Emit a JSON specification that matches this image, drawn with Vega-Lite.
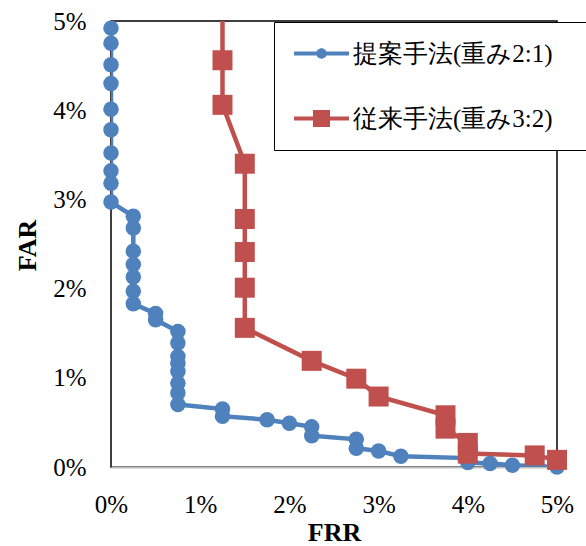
{
  "$schema": "https://vega.github.io/schema/vega-lite/v6.json",
  "width": 446,
  "height": 446,
  "autosize": {"type": "none"},
  "padding": {"left": 111, "top": 21, "right": 29, "bottom": 79},
  "background": "white",
  "config": {
    "view": {"stroke": "black", "strokeWidth": 1.5},
    "font": "Liberation Serif"
  },
  "data": {
    "values": [
      {"s": "提案手法(重み2:1)", "i": 0, "frr": 0, "far": 4.92},
      {"s": "提案手法(重み2:1)", "i": 1, "frr": 0, "far": 4.75},
      {"s": "提案手法(重み2:1)", "i": 2, "frr": 0, "far": 4.51},
      {"s": "提案手法(重み2:1)", "i": 3, "frr": 0, "far": 4.30},
      {"s": "提案手法(重み2:1)", "i": 4, "frr": 0, "far": 4.01},
      {"s": "提案手法(重み2:1)", "i": 5, "frr": 0, "far": 3.78},
      {"s": "提案手法(重み2:1)", "i": 6, "frr": 0, "far": 3.52},
      {"s": "提案手法(重み2:1)", "i": 7, "frr": 0, "far": 3.32},
      {"s": "提案手法(重み2:1)", "i": 8, "frr": 0, "far": 3.18},
      {"s": "提案手法(重み2:1)", "i": 9, "frr": 0, "far": 2.97},
      {"s": "提案手法(重み2:1)", "i": 10, "frr": 0.25, "far": 2.81},
      {"s": "提案手法(重み2:1)", "i": 11, "frr": 0.25, "far": 2.68},
      {"s": "提案手法(重み2:1)", "i": 12, "frr": 0.25, "far": 2.42},
      {"s": "提案手法(重み2:1)", "i": 13, "frr": 0.25, "far": 2.27},
      {"s": "提案手法(重み2:1)", "i": 14, "frr": 0.25, "far": 2.13},
      {"s": "提案手法(重み2:1)", "i": 15, "frr": 0.25, "far": 1.97},
      {"s": "提案手法(重み2:1)", "i": 16, "frr": 0.25, "far": 1.83},
      {"s": "提案手法(重み2:1)", "i": 17, "frr": 0.5, "far": 1.72},
      {"s": "提案手法(重み2:1)", "i": 18, "frr": 0.5, "far": 1.65},
      {"s": "提案手法(重み2:1)", "i": 19, "frr": 0.75, "far": 1.52},
      {"s": "提案手法(重み2:1)", "i": 20, "frr": 0.75, "far": 1.39},
      {"s": "提案手法(重み2:1)", "i": 21, "frr": 0.75, "far": 1.24},
      {"s": "提案手法(重み2:1)", "i": 22, "frr": 0.75, "far": 1.16},
      {"s": "提案手法(重み2:1)", "i": 23, "frr": 0.75, "far": 1.07},
      {"s": "提案手法(重み2:1)", "i": 24, "frr": 0.75, "far": 0.94},
      {"s": "提案手法(重み2:1)", "i": 25, "frr": 0.75, "far": 0.83},
      {"s": "提案手法(重み2:1)", "i": 26, "frr": 0.75, "far": 0.70},
      {"s": "提案手法(重み2:1)", "i": 27, "frr": 1.25, "far": 0.65},
      {"s": "提案手法(重み2:1)", "i": 28, "frr": 1.25, "far": 0.57},
      {"s": "提案手法(重み2:1)", "i": 29, "frr": 1.75, "far": 0.53},
      {"s": "提案手法(重み2:1)", "i": 30, "frr": 2.0, "far": 0.49},
      {"s": "提案手法(重み2:1)", "i": 31, "frr": 2.25, "far": 0.45},
      {"s": "提案手法(重み2:1)", "i": 32, "frr": 2.25, "far": 0.35},
      {"s": "提案手法(重み2:1)", "i": 33, "frr": 2.75, "far": 0.31},
      {"s": "提案手法(重み2:1)", "i": 34, "frr": 2.75, "far": 0.21},
      {"s": "提案手法(重み2:1)", "i": 35, "frr": 3.0, "far": 0.18},
      {"s": "提案手法(重み2:1)", "i": 36, "frr": 3.25, "far": 0.12},
      {"s": "提案手法(重み2:1)", "i": 37, "frr": 4.0, "far": 0.10},
      {"s": "提案手法(重み2:1)", "i": 38, "frr": 4.0, "far": 0.05},
      {"s": "提案手法(重み2:1)", "i": 39, "frr": 4.25, "far": 0.04},
      {"s": "提案手法(重み2:1)", "i": 40, "frr": 4.5, "far": 0.02},
      {"s": "提案手法(重み2:1)", "i": 41, "frr": 5.0, "far": 0.0},
      {"s": "従来手法(重み3:2)", "i": 0, "frr": 1.25, "far": 5.6},
      {"s": "従来手法(重み3:2)", "i": 1, "frr": 1.25, "far": 4.56},
      {"s": "従来手法(重み3:2)", "i": 2, "frr": 1.25, "far": 4.06},
      {"s": "従来手法(重み3:2)", "i": 3, "frr": 1.5, "far": 3.40},
      {"s": "従来手法(重み3:2)", "i": 4, "frr": 1.5, "far": 2.78},
      {"s": "従来手法(重み3:2)", "i": 5, "frr": 1.5, "far": 2.41},
      {"s": "従来手法(重み3:2)", "i": 6, "frr": 1.5, "far": 2.01},
      {"s": "従来手法(重み3:2)", "i": 7, "frr": 1.5, "far": 1.56},
      {"s": "従来手法(重み3:2)", "i": 8, "frr": 2.25, "far": 1.19},
      {"s": "従来手法(重み3:2)", "i": 9, "frr": 2.75, "far": 0.99},
      {"s": "従来手法(重み3:2)", "i": 10, "frr": 3.0, "far": 0.79},
      {"s": "従来手法(重み3:2)", "i": 11, "frr": 3.75, "far": 0.58},
      {"s": "従来手法(重み3:2)", "i": 12, "frr": 3.75, "far": 0.43},
      {"s": "従来手法(重み3:2)", "i": 13, "frr": 4.0, "far": 0.27},
      {"s": "従来手法(重み3:2)", "i": 14, "frr": 4.0, "far": 0.15},
      {"s": "従来手法(重み3:2)", "i": 15, "frr": 4.75, "far": 0.13},
      {"s": "従来手法(重み3:2)", "i": 16, "frr": 5.0, "far": 0.08}
    ]
  },
  "encoding": {
    "x": {
      "field": "frr", "type": "quantitative",
      "scale": {"domain": [0, 5], "nice": false, "zero": false},
      "axis": {
        "title": "FRR", "values": [0, 1, 2, 3, 4, 5],
        "labelExpr": "datum.value + '%'",
        "grid": false, "ticks": false, "tickSize": 0,
        "domainColor": "#BFBFBF", "domainWidth": 2,
        "labelFont": "Liberation Serif", "labelFontSize": 25, "labelColor": "black",
        "labelBaseline": "alphabetic", "labelPadding": 45, "labelFlush": false, "labelOverlap": false,
        "titleFont": "Liberation Serif", "titleFontSize": 26, "titleFontWeight": "bold", "titleColor": "black",
        "titleBaseline": "alphabetic", "titleY": 73, "titleX": 223, "titleAlign": "center"
      }
    },
    "y": {
      "field": "far", "type": "quantitative",
      "scale": {"domain": [0, 5], "nice": false, "zero": false},
      "axis": {
        "title": "FAR", "values": [0, 1, 2, 3, 4, 5],
        "labelExpr": "datum.value + '%'",
        "grid": false, "ticks": false, "tickSize": 0, "domain": false,
        "labelFont": "Liberation Serif", "labelFontSize": 25, "labelColor": "black",
        "labelPadding": 25, "labelFlush": false, "labelOverlap": false,
        "titleFont": "Liberation Serif", "titleFontSize": 26, "titleFontWeight": "bold", "titleColor": "black",
        "titleAngle": -90, "titleBaseline": "middle", "titleAlign": "center", "titleX": -84, "titleY": 224
      }
    }
  },
  "layer": [
    {
      "mark": {"type": "line", "strokeWidth": 4.5, "clip": true},
      "encoding": {
        "color": {
          "field": "s", "type": "nominal",
          "scale": {"domain": ["提案手法(重み2:1)", "従来手法(重み3:2)"], "range": ["#4F81BD", "#C0504D"]},
          "legend": {
            "orient": "none", "legendX": 163, "legendY": 1,
            "title": "\u00a0", "titleOrient": "right", "titlePadding": 40, "titleFontSize": 10,
            "strokeColor": "black", "fillColor": "white", "padding": 4,
            "symbolSize": 3025, "symbolOffset": 16, "rowPadding": 10,
            "labelFont": "Liberation Serif", "labelFontSize": 25, "labelColor": "black",
            "labelOffset": 4, "labelLimit": 400,
            "encode": {
              "symbols": {
                "update": {
                  "shape": {"signal": "datum.value === '提案手法(重み2:1)' ? 'M0,-1M0,1M-1,-0.075H1V0.075H-1Z M0.19,0A0.19,0.19,0,1,1,-0.19,0A0.19,0.19,0,1,1,0.19,0Z' : 'M0,-1M0,1M-1,-0.075H1V0.075H-1Z M-0.31,-0.31H0.31V0.31H-0.31Z'"},
                  "fill": {"scale": "color", "field": "value"},
                  "fillOpacity": {"value": 1},
                  "strokeWidth": {"value": 0}
                }
              }
            }
          }
        },
        "order": {"field": "i", "type": "quantitative"}
      }
    },
    {
      "transform": [{"filter": "datum.s === '提案手法(重み2:1)'"}],
      "mark": {"type": "point", "shape": "circle", "filled": true, "size": 240, "color": "#4F81BD", "opacity": 1}
    },
    {
      "transform": [{"filter": "datum.s === '従来手法(重み3:2)' && datum.far <= 5"}],
      "mark": {"type": "point", "shape": "square", "filled": true, "size": 400, "color": "#C0504D", "opacity": 1}
    }
  ]
}
